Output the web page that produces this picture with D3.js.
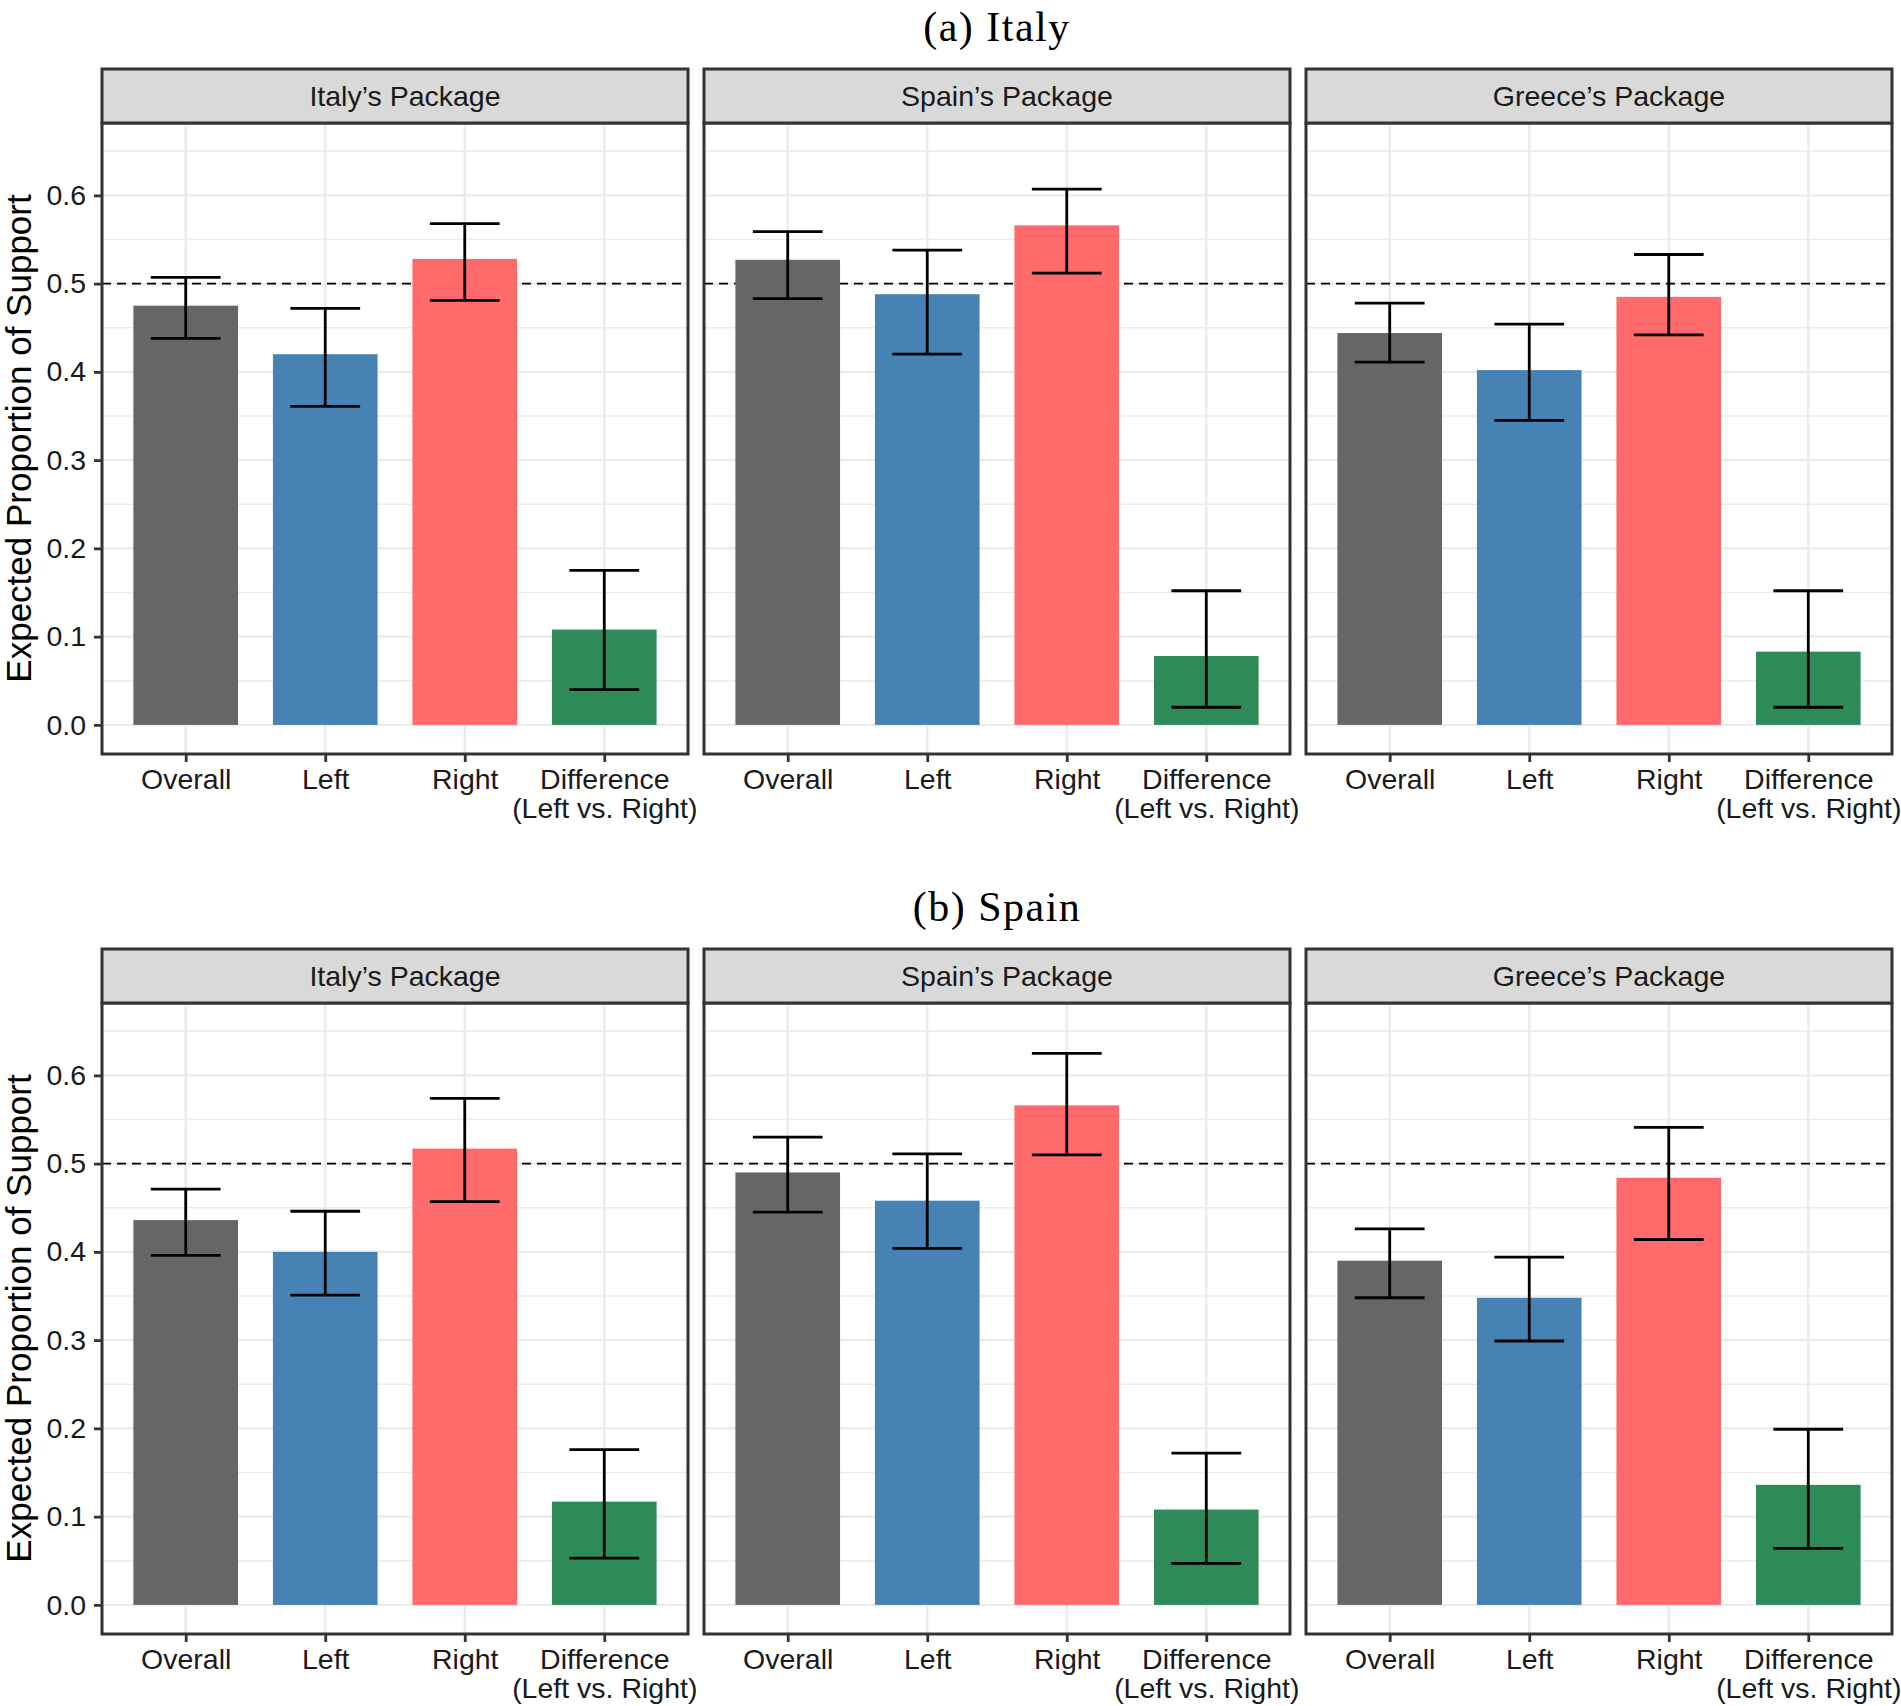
<!DOCTYPE html>
<html>
<head>
<meta charset="utf-8">
<script src="https://cdn.jsdelivr.net/npm/d3@7"></script>
<style>
  body { margin: 0; background: #fff; }
  svg { display: block; }
</style>
</head>
<body>
<svg id="chart" width="1901" height="1706"></svg>
<script>
// ---------------- data ----------------
const rowTitles = ["(a) Italy", "(b) Spain"];
const packages = ["Italy’s Package", "Spain’s Package", "Greece’s Package"];
const categories = ["Overall", "Left", "Right", "Difference\n(Left vs. Right)"];
const categoryColors = ["#666666", "#4682B4", "#FF6A6A", "#2E8B57"];
const yTicks = [0.0, 0.1, 0.2, 0.3, 0.4, 0.5, 0.6];
const yMinorTicks = [0.05, 0.15, 0.25, 0.35, 0.45, 0.55, 0.65];
const reference = 0.5;

// (a) Italy: [package][category]
const italyEst = [[0.475, 0.420, 0.528, 0.108], [0.527, 0.488, 0.566, 0.078], [0.444, 0.402, 0.485, 0.083]];
const italyLo  = [[0.438, 0.361, 0.481, 0.040], [0.483, 0.420, 0.512, 0.020], [0.411, 0.345, 0.442, 0.020]];
const italyHi  = [[0.507, 0.472, 0.568, 0.175], [0.559, 0.538, 0.607, 0.152], [0.478, 0.454, 0.533, 0.152]];
// (b) Spain
const spainEst = [[0.436, 0.400, 0.517, 0.117], [0.490, 0.458, 0.566, 0.108], [0.390, 0.348, 0.484, 0.136]];
const spainLo  = [[0.396, 0.351, 0.457, 0.053], [0.445, 0.404, 0.510, 0.047], [0.348, 0.299, 0.414, 0.064]];
const spainHi  = [[0.471, 0.446, 0.574, 0.176], [0.530, 0.511, 0.625, 0.172], [0.426, 0.394, 0.541, 0.199]];

const rowData = [
  { est: italyEst, lo: italyLo, hi: italyHi },
  { est: spainEst, lo: spainLo, hi: spainHi }
];

// ---------------- layout ----------------
const svg = d3.select("#chart");
const sans = "'Liberation Sans', Arial, Helvetica, sans-serif";
const serif = "'Liberation Serif', 'Times New Roman', serif";
const panelLefts = [102, 704, 1306];
const panelW = 586;
const rowOffset = 880;
const stripTop = 69, stripBottom = 123, panelBottom = 754;
const yDomain = [-0.033, 0.682];
const border = "#333333";
const textSize = 28.5;

rowData.forEach((rd, r) => {
  const off = r * rowOffset;
  const g = svg.append("g").attr("transform", `translate(0,${off})`);

  const y = d3.scaleLinear().domain(yDomain).range([panelBottom, stripBottom]);

  // row title
  g.append("text")
    .attr("x", 997).attr("y", 41)
    .attr("text-anchor", "middle")
    .attr("font-family", serif).attr("font-size", 42)
    .attr("letter-spacing", 1.5)
    .attr("fill", "#000")
    .text(rowTitles[r]);

  // y axis title
  g.append("text")
    .attr("transform", `translate(31,${(stripBottom + panelBottom) / 2}) rotate(-90)`)
    .attr("text-anchor", "middle")
    .attr("font-family", sans).attr("font-size", 35)
    .attr("fill", "#000")
    .text("Expected Proportion of Support");

  packages.forEach((pkg, p) => {
    const px = panelLefts[p];
    const x = d3.scalePoint().domain(categories).range([px, px + panelW]).padding(0.6);
    const step = x.step();
    const bw = step * 0.75;
    const ew = step * 0.5;
    const pg = g.append("g");

    // panel background
    pg.append("rect").attr("x", px).attr("y", stripBottom)
      .attr("width", panelW).attr("height", panelBottom - stripBottom)
      .attr("fill", "#fff");

    // minor grid
    pg.selectAll(".ming").data(yMinorTicks).join("line")
      .attr("x1", px).attr("x2", px + panelW)
      .attr("y1", d => y(d)).attr("y2", d => y(d))
      .attr("stroke", "#EBEBEB").attr("stroke-width", 1.3);
    // major grid
    pg.selectAll(".majg").data(yTicks).join("line")
      .attr("x1", px).attr("x2", px + panelW)
      .attr("y1", d => y(d)).attr("y2", d => y(d))
      .attr("stroke", "#EBEBEB").attr("stroke-width", 2.3);
    pg.selectAll(".majv").data(categories).join("line")
      .attr("x1", d => x(d)).attr("x2", d => x(d))
      .attr("y1", stripBottom).attr("y2", panelBottom)
      .attr("stroke", "#EBEBEB").attr("stroke-width", 2.3);

    // reference line
    pg.append("line")
      .attr("x1", px).attr("x2", px + panelW)
      .attr("y1", y(reference)).attr("y2", y(reference))
      .attr("stroke", "#000").attr("stroke-width", 1.7)
      .attr("stroke-dasharray", "9,6");

    const data = categories.map((c, i) => ({
      cat: c, est: rd.est[p][i], lo: rd.lo[p][i], hi: rd.hi[p][i], color: categoryColors[i]
    }));

    // bars
    pg.selectAll(".bar").data(data).join("rect")
      .attr("x", d => x(d.cat) - bw / 2)
      .attr("width", bw)
      .attr("y", d => y(d.est))
      .attr("height", d => y(0) - y(d.est))
      .attr("fill", d => d.color);

    // error bars
    const eb = pg.selectAll(".eb").data(data).join("g").attr("stroke", "#000").attr("stroke-width", 2.8);
    eb.append("line").attr("x1", d => x(d.cat)).attr("x2", d => x(d.cat))
      .attr("y1", d => y(d.lo)).attr("y2", d => y(d.hi));
    eb.append("line").attr("x1", d => x(d.cat) - ew / 2).attr("x2", d => x(d.cat) + ew / 2)
      .attr("y1", d => y(d.lo)).attr("y2", d => y(d.lo));
    eb.append("line").attr("x1", d => x(d.cat) - ew / 2).attr("x2", d => x(d.cat) + ew / 2)
      .attr("y1", d => y(d.hi)).attr("y2", d => y(d.hi));

    // panel border
    pg.append("rect").attr("x", px).attr("y", stripBottom)
      .attr("width", panelW).attr("height", panelBottom - stripBottom)
      .attr("fill", "none").attr("stroke", border).attr("stroke-width", 3);

    // strip
    pg.append("rect").attr("x", px).attr("y", stripTop)
      .attr("width", panelW).attr("height", stripBottom - stripTop)
      .attr("fill", "#D9D9D9").attr("stroke", border).attr("stroke-width", 3);
    pg.append("text")
      .attr("x", px + panelW / 2 + 10).attr("y", (stripTop + stripBottom) / 2)
      .attr("dy", "0.36em")
      .attr("text-anchor", "middle")
      .attr("font-family", sans).attr("font-size", textSize)
      .attr("fill", "#1A1A1A")
      .text(pkg);

    // x axis
    const xa = pg.append("g").attr("transform", `translate(0,${panelBottom})`)
      .call(d3.axisBottom(x).tickSize(8).tickPadding(8).tickFormat(""));
    xa.select(".domain").remove();
    xa.selectAll(".tick line").attr("stroke", border).attr("stroke-width", 2.8);
    xa.selectAll(".tick").each(function (d) {
      const t = d3.select(this).append("text")
        .attr("text-anchor", "middle")
        .attr("font-family", sans).attr("font-size", textSize)
        .attr("fill", "#1A1A1A");
      d.split("\n").forEach((line, li) => {
        t.append("tspan").attr("x", 0).attr("y", 35 + li * 29).text(line);
      });
    });

    // y axis (left column only)
    if (p === 0) {
      const ya = pg.append("g").attr("transform", `translate(${px},0)`)
        .call(d3.axisLeft(y).tickValues(yTicks).tickSize(8).tickPadding(8).tickFormat(d3.format(".1f")));
      ya.select(".domain").remove();
      ya.selectAll(".tick line").attr("stroke", border).attr("stroke-width", 2.8);
      ya.selectAll(".tick text")
        .attr("font-family", sans).attr("font-size", textSize)
        .attr("fill", "#1A1A1A");
    }
  });
});
</script>
</body>
</html>
